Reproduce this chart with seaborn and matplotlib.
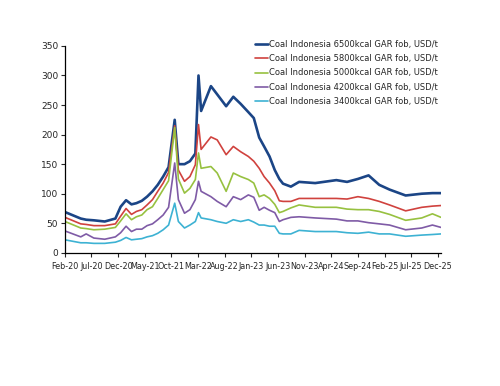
import pandas as pd
import matplotlib
matplotlib.use('Agg')
import matplotlib.pyplot as plt
import matplotlib.dates as mdates
import seaborn as sns

# Values (USD/t)
dates = ['2020-02-01', '2020-05-01', '2020-06-01', '2020-07-15', '2020-09-15', '2020-11-15',
         '2020-12-15', '2021-01-15', '2021-02-15', '2021-03-15', '2021-04-15', '2021-05-15',
         '2021-06-15', '2021-07-15', '2021-08-15', '2021-09-15', '2021-10-20', '2021-11-10',
         '2021-12-15', '2022-01-15', '2022-02-15', '2022-03-05', '2022-03-20', '2022-05-15',
         '2022-06-20', '2022-08-10', '2022-09-20', '2022-11-01', '2022-12-15', '2023-01-15',
         '2023-02-15', '2023-03-15', '2023-04-15', '2023-05-15', '2023-06-10', '2023-07-01',
         '2023-08-15', '2023-10-01', '2024-01-01', '2024-05-01', '2024-07-01', '2024-09-01',
         '2024-11-01', '2025-01-01', '2025-03-01', '2025-06-01', '2025-09-01', '2025-11-01',
         '2025-12-20']

gar_6500 = [69, 58, 56, 55, 53, 58, 78, 89, 82, 84, 88, 95, 104, 115, 129, 145, 225, 150,
            150, 155, 168, 300, 240, 282, 268, 248, 264, 252, 238, 228, 195, 180, 163, 140,
            125, 117, 112, 120, 118, 123, 120, 125, 131, 115, 107, 97, 100, 101, 101]
gar_5800 = [60, 49, 48, 46, 46, 49, 62, 75, 65, 70, 73, 81, 90, 104, 118, 136, 215, 140,
            121, 129, 149, 217, 175, 196, 191, 166, 180, 171, 163, 155, 143, 129, 118, 105,
            88, 87, 87, 92, 92, 92, 91, 95, 92, 87, 81, 71, 77, 79, 80]
gar_5000 = [53, 42, 41, 39, 40, 43, 54, 66, 56, 61, 64, 73, 78, 92, 107, 122, 212, 125,
            101, 109, 124, 169, 143, 146, 135, 104, 135, 129, 124, 118, 95, 98, 92, 82,
            68, 70, 76, 81, 77, 77, 74, 73, 73, 70, 65, 55, 59, 66, 60]
gar_4200 = [37, 27, 32, 25, 23, 27, 34, 45, 36, 40, 40, 46, 49, 56, 64, 77, 152, 90,
            67, 73, 90, 121, 104, 95, 87, 78, 95, 90, 98, 94, 72, 77, 72, 68,
            53, 56, 60, 61, 59, 57, 54, 54, 51, 49, 47, 39, 42, 47, 43]
gar_3400 = [22, 17, 17, 16, 16, 18, 21, 26, 22, 23, 24, 27, 29, 33, 39, 47, 84, 53,
            42, 47, 53, 68, 59, 56, 53, 50, 56, 53, 56, 52, 47, 47, 45, 45,
            33, 32, 32, 38, 36, 36, 34, 33, 35, 32, 32, 28, 30, 31, 32]

series_names = ['Coal Indonesia 6500kcal GAR fob, USD/t',
                'Coal Indonesia 5800kcal GAR fob, USD/t',
                'Coal Indonesia 5000kcal GAR fob, USD/t',
                'Coal Indonesia 4200kcal GAR fob, USD/t',
                'Coal Indonesia 3400kcal GAR fob, USD/t']
series_values = [gar_6500, gar_5800, gar_5000, gar_4200, gar_3400]
colors = ['#1B4586', '#D0423E', '#97C140', '#7F5BA6', '#3DB2D3']
widths = [1.9, 1.2, 1.2, 1.2, 1.2]

sns.set_style('ticks')
plt.rcParams['font.family'] = ['DejaVu Sans Condensed', 'DejaVu Sans']

frames = []
for name, vals in zip(series_names, series_values):
    frames.append(pd.DataFrame({'date': pd.to_datetime(dates), 'value': vals, 'series': name}))
df = pd.concat(frames, ignore_index=True)

fig = plt.figure(figsize=(5, 3.86), dpi=100)
ax = fig.add_axes([0.13, 0.345, 0.752, 0.536])

for name, color, lw in zip(series_names, colors, widths):
    sns.lineplot(data=df[df['series'] == name], x='date', y='value', color=color,
                 linewidth=lw, label=name, ax=ax)

ax.set_xlim(pd.Timestamp('2020-02-01'), pd.Timestamp('2025-12-20'))
ax.set_ylim(0, 350)
ax.set_yticks(range(0, 351, 50))
ax.set_xticks(pd.date_range('2020-02-01', '2025-12-01', freq='5MS'))
ax.xaxis.set_major_formatter(mdates.DateFormatter('%b-%y'))
ax.set_xlabel('')
ax.set_ylabel('')
ax.tick_params(axis='x', labelsize=5.8, length=3, width=0.8, pad=3.5)
ax.tick_params(axis='y', labelsize=6.5, length=3, width=0.8, pad=2)
sns.despine(ax=ax)
for s in ['left', 'bottom']:
    ax.spines[s].set_color('black')
    ax.spines[s].set_linewidth(0.9)

ax.legend(loc='upper left', bbox_to_anchor=(0.503, 0.905), bbox_transform=fig.transFigure,
          frameon=False, fontsize=6.05, handlelength=1.55, handletextpad=0.15,
          labelspacing=0.62, borderaxespad=0)

fig.savefig('out.png', dpi=100)
